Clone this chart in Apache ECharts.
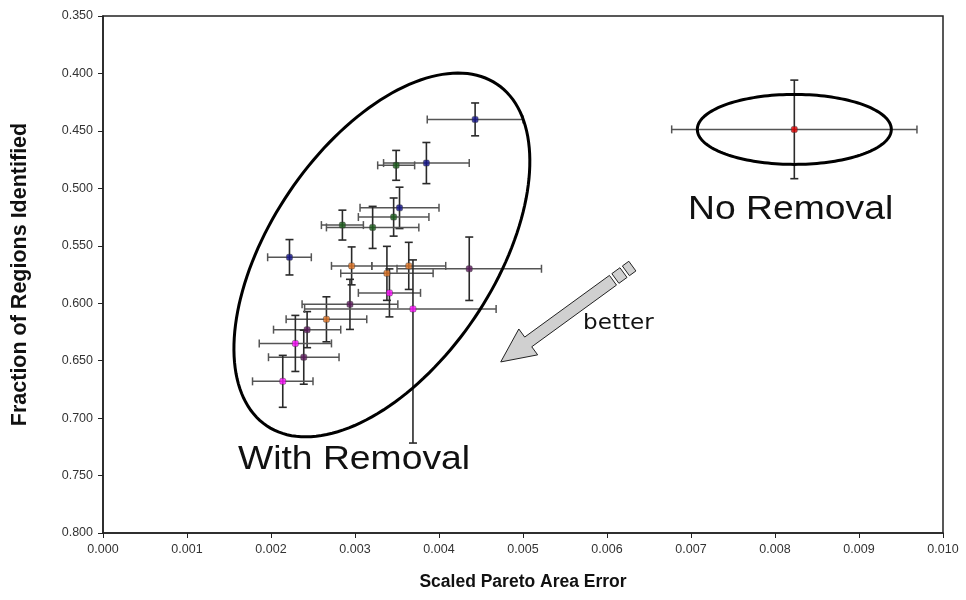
<!DOCTYPE html>
<html>
<head>
<meta charset="utf-8">
<script src="https://cdn.jsdelivr.net/npm/echarts@6/dist/echarts.min.js"></script>
<style>html,body{margin:0;padding:0;background:#fff}#c{width:966px;height:600px}</style>
</head>
<body>
<div id="c"></div>
<script>
// ---- data (x, y, x-error low/high, y-error low/high) ----
const blueX  = [0.00443, 0.00385, 0.00353, 0.00222];
const blueY  = [0.440, 0.478, 0.517, 0.560];
const blueXL = [0.00057, 0.00051, 0.00047, 0.00026];
const blueXH = [0.00057, 0.00051, 0.00047, 0.00026];
const blueYL = [0.0143, 0.0179, 0.018, 0.0154];
const blueYH = [0.0143, 0.0179, 0.018, 0.0154];

const greenX  = [0.00349, 0.00346, 0.00285, 0.00321];
const greenY  = [0.480, 0.525, 0.532, 0.534];
const greenXL = [0.00022, 0.00042, 0.00025, 0.00055];
const greenXH = [0.00022, 0.00042, 0.00025, 0.00055];
const greenYL = [0.013, 0.0166, 0.013, 0.0183];
const greenYH = [0.013, 0.0166, 0.013, 0.0183];

const orangeX  = [0.00296, 0.00364, 0.00338, 0.00266];
const orangeY  = [0.5675, 0.5675, 0.574, 0.614];
const orangeXL = [0.00024, 0.00044, 0.00055, 0.00048];
const orangeXH = [0.00024, 0.00044, 0.00055, 0.00048];
const orangeYL = [0.0165, 0.0205, 0.0235, 0.0196];
const orangeYH = [0.0165, 0.0205, 0.0235, 0.0196];

const purpleX  = [0.00436, 0.00294, 0.00243, 0.00239];
const purpleY  = [0.570, 0.601, 0.623, 0.647];
const purpleXL = [0.00086, 0.00057, 0.0004, 0.00042];
const purpleXH = [0.00086, 0.00057, 0.0004, 0.00042];
const purpleYL = [0.0276, 0.0218, 0.0157, 0.0235];
const purpleYH = [0.0276, 0.0218, 0.0157, 0.0235];

const magentaX  = [0.00341, 0.00369, 0.00229, 0.00214];
const magentaY  = [0.591, 0.605, 0.635, 0.668];
const magentaXL = [0.00037, 0.00129, 0.00043, 0.00036];
const magentaXH = [0.00037, 0.00099, 0.00043, 0.00036];
const magentaYL = [0.0209, 0.0427, 0.0244, 0.0226];
const magentaYH = [0.0209, 0.1167, 0.0244, 0.0226];

const redX  = [0.00823];
const redY  = [0.4487];
const redXL = [0.00146];
const redXH = [0.00146];
const redYL = [0.0429];
const redYH = [0.0429];

const xTicks = ['0.000','0.001','0.002','0.003','0.004','0.005','0.006','0.007','0.008','0.009','0.010'];
const yTicks = ['0.350','0.400','0.450','0.500','0.550','0.600','0.650','0.700','0.750','0.800'];

const groups = [
  {name:'blue', color:'#14148c', x:blueX, y:blueY, xl:blueXL, xh:blueXH, yl:blueYL, yh:blueYH},
  {name:'green', color:'#1d5e1d', x:greenX, y:greenY, xl:greenXL, xh:greenXH, yl:greenYL, yh:greenYH},
  {name:'orange', color:'#e07424', x:orangeX, y:orangeY, xl:orangeXL, xh:orangeXH, yl:orangeYL, yh:orangeYH},
  {name:'purple', color:'#5c1a5c', x:purpleX, y:purpleY, xl:purpleXL, xh:purpleXH, yl:purpleYL, yh:purpleYH},
  {name:'magenta', color:'#ff10ff', x:magentaX, y:magentaY, xl:magentaXL, xh:magentaXH, yl:magentaYL, yh:magentaYH},
  {name:'red', color:'#e00000', x:redX, y:redY, xl:redXL, xh:redXH, yl:redYL, yh:redYH}
];

const chart = echarts.init(document.getElementById('c'));
const CAP = 4;
const series = [];
groups.forEach(g => {
  const errData = g.x.map((x,i) => [x, g.y[i], x - g.xl[i], x + g.xh[i], g.y[i] - g.yl[i], g.y[i] + g.yh[i]]);
  series.push({
    type:'custom', name:g.name+'-err', silent:true, z:2,
    data: errData,
    renderItem: function(params, api){
      const x = api.value(0), y = api.value(1);
      const p = api.coord([x,y]);
      const l = api.coord([api.value(2), y]);
      const r = api.coord([api.value(3), y]);
      const t = api.coord([x, api.value(4)]);
      const b = api.coord([x, api.value(5)]);
      const sh = {stroke:'#555', lineWidth:1.5};
      const sv = {stroke:'#2a2a2a', lineWidth:1.6};
      return {type:'group', children:[
        {type:'line', shape:{x1:l[0],y1:p[1],x2:r[0],y2:p[1]}, style:sh},
        {type:'line', shape:{x1:l[0],y1:p[1]-CAP,x2:l[0],y2:p[1]+CAP}, style:sh},
        {type:'line', shape:{x1:r[0],y1:p[1]-CAP,x2:r[0],y2:p[1]+CAP}, style:sh},
        {type:'line', shape:{x1:p[0],y1:t[1],x2:p[0],y2:b[1]}, style:sv},
        {type:'line', shape:{x1:p[0]-CAP,y1:t[1],x2:p[0]+CAP,y2:t[1]}, style:sv},
        {type:'line', shape:{x1:p[0]-CAP,y1:b[1],x2:p[0]+CAP,y2:b[1]}, style:sv}
      ]};
    }
  });
  series.push({
    type:'scatter', name:g.name, z:5, symbol:'roundRect', symbolSize:6,
    itemStyle:{color:g.color, borderColor:'#333', borderWidth:0.5},
    data: g.x.map((x,i)=>[x, g.y[i]])
  });
});

const option = {
  animation:false,
  backgroundColor:'#ffffff',
  grid:{left:103, right:23, top:16, bottom:67, show:true, borderColor:'#222', borderWidth:1.5,
        backgroundColor:'transparent', containLabel:false, outerBoundsMode:'none'},
  xAxis:{
    type:'value', min:0, max:0.01, interval:0.001,
    name:'Scaled Pareto Area Error', nameLocation:'middle', nameGap:40,
    nameTextStyle:{fontFamily:'Liberation Sans', fontWeight:'bold', fontSize:17.5, color:'#111'},
    axisLine:{show:true, lineStyle:{color:'#222', width:1.5}},
    axisTick:{show:true, inside:false, length:5, lineStyle:{color:'#222'}},
    splitLine:{show:false},
    axisLabel:{fontFamily:'Liberation Sans', fontSize:12.5, color:'#333', margin:10,
      formatter: v => xTicks[Math.round(v/0.001)]}
  },
  yAxis:{
    type:'value', min:0.35, max:0.8, interval:0.05, inverse:true,
    name:'Fraction of Regions Identified', nameLocation:'middle', nameGap:72, nameRotate:90,
    nameTextStyle:{fontFamily:'Liberation Sans', fontWeight:'bold', fontSize:21.5, color:'#111'},
    axisLine:{show:true, lineStyle:{color:'#222', width:1.5}},
    axisTick:{show:true, inside:false, length:5, lineStyle:{color:'#222'}},
    splitLine:{show:false},
    axisLabel:{fontFamily:'Liberation Sans', fontSize:12.5, color:'#333', margin:10,
      formatter: v => yTicks[Math.round((v-0.35)/0.05)]}
  },
  series: series
};
chart.setOption(option);

// ---- annotations ----
function px(x,y){ return chart.convertToPixel({gridIndex:0}, [x,y]); }
function ellipsePts(c, a, b, ang){
  const pts=[]; const u=[Math.cos(ang), -Math.sin(ang)], v=[Math.sin(ang), Math.cos(ang)];
  for(let i=0;i<160;i++){ const t=i/160*2*Math.PI;
    pts.push([c[0]+a*Math.cos(t)*u[0]+b*Math.sin(t)*v[0], c[1]+a*Math.cos(t)*u[1]+b*Math.sin(t)*v[1]]); }
  return pts;
}
const bigC = px(0.00332, 0.5580);
const redC = px(redX[0], redY[0]);
const tip = px(0.004735, 0.6511), tail = px(0.006071, 0.5800);
const dx = tip[0]-tail[0], dy = tip[1]-tail[1], len = Math.hypot(dx,dy);
const d = [dx/len, dy/len], n = [-d[1], d[0]];
const w = 6, hw = 16, hl = 34;
const H = [tip[0]-d[0]*hl, tip[1]-d[1]*hl];
const P = (base, along, across) => [base[0]+d[0]*along+n[0]*across, base[1]+d[1]*along+n[1]*across];
const arrowPts = [P(tail,0,w), P(H,0,w), P(H,0,hw), tip, P(H,0,-hw), P(H,0,-w), P(tail,0,-w)];
const seg1 = [P(tail,-3,w), P(tail,-13,w), P(tail,-13,-w), P(tail,-3,-w)];
const seg2 = [P(tail,-16,w), P(tail,-24,w), P(tail,-24,-w), P(tail,-16,-w)];
const aStyle = {fill:'#d0d0d0', stroke:'#222', lineWidth:1};

chart.setOption({graphic:[
  {type:'polygon', shape:{points:ellipsePts(bigC,206,112,56*Math.PI/180)}, style:{fill:'none', stroke:'#000', lineWidth:3}, z:10},
  {type:'polygon', shape:{points:ellipsePts(redC,97,35,0)}, style:{fill:'none', stroke:'#000', lineWidth:3}, z:10},
  {type:'polygon', shape:{points:arrowPts}, style:aStyle, z:10},
  {type:'polygon', shape:{points:seg1}, style:aStyle, z:10},
  {type:'polygon', shape:{points:seg2}, style:aStyle, z:10},
  {type:'text', x:688, y:193, scaleX:1.13, style:{text:'No Removal', font:'33px "Liberation Sans"', fill:'#111'}, z:10},
  {type:'text', x:238, y:443, scaleX:1.13, style:{text:'With Removal', font:'33px "Liberation Sans"', fill:'#111'}, z:10},
  {type:'text', x:583, y:313, scaleX:1.1, style:{text:'better', font:'21px "DejaVu Sans"', fill:'#111'}, z:10}
]});
</script>
</body>
</html>
